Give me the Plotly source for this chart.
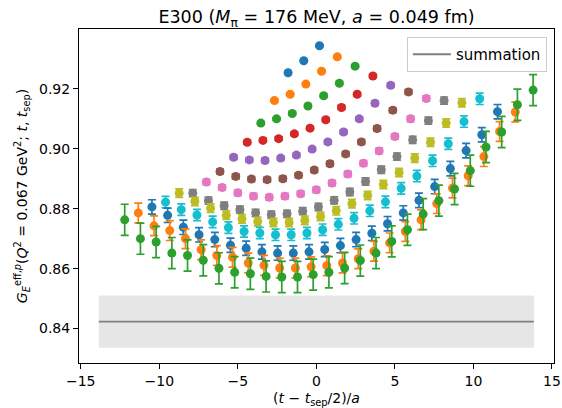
import numpy as np
import plotly.graph_objects as go

# Source-sink separations in lattice units
t_seps = [4, 6, 8, 10, 12, 14, 16, 18, 20, 22, 24, 26, 28]

# Effective form factor G_E^{eff,p} for each t_sep, at t = 1 .. t_sep-1
g_ts04 = [0.9254, 0.9294, 0.9344]
g_ts06 = [0.9161, 0.9182, 0.9216, 0.9259, 0.9307]
g_ts08 = [0.9086, 0.9100, 0.9118, 0.9143, 0.9177, 0.9219, 0.9276]
g_ts10 = [0.9022, 0.9028, 0.9034, 0.9050, 0.9069, 0.9097, 0.9138, 0.9182, 0.9243]
g_ts12 = [0.8972, 0.8963, 0.8961, 0.8969, 0.8979, 0.8999, 0.9023, 0.9056, 0.9100,
          0.9152, 0.9212]
g_ts14 = [0.8924, 0.8908, 0.8899, 0.8897, 0.8900, 0.8912, 0.8929, 0.8950, 0.8983,
          0.9023, 0.9068, 0.9129, 0.9190]
g_ts16 = [0.8889, 0.8871, 0.8853, 0.8842, 0.8838, 0.8842, 0.8850, 0.8863, 0.8886,
          0.8916, 0.8952, 0.8993, 0.9041, 0.9100, 0.9168]
g_ts18 = [0.8852, 0.8827, 0.8810, 0.8797, 0.8786, 0.8780, 0.8783, 0.8792, 0.8806,
          0.8828, 0.8856, 0.8891, 0.8930, 0.8974, 0.9030, 0.9094, 0.9161]
g_ts20 = [0.8852, 0.8824, 0.8802, 0.8778, 0.8766, 0.8757, 0.8754, 0.8754, 0.8761,
          0.8774, 0.8793, 0.8817, 0.8844, 0.8881, 0.8921, 0.8969, 0.9022, 0.9086,
          0.9154]
g_ts22 = [0.8822, 0.8797, 0.8779, 0.8756, 0.8737, 0.8724, 0.8719, 0.8713, 0.8713,
          0.8719, 0.8730, 0.8748, 0.8768, 0.8793, 0.8823, 0.8868, 0.8909, 0.8960,
          0.9017, 0.9091, 0.9167]
g_ts24 = [0.8806, 0.8778, 0.8738, 0.8713, 0.8697, 0.8678, 0.8668, 0.8656, 0.8652,
          0.8652, 0.8656, 0.8664, 0.8677, 0.8697, 0.8718, 0.8750, 0.8786, 0.8828,
          0.8874, 0.8934, 0.8994, 0.9047, 0.9124]
g_ts26 = [0.8786, 0.8743, 0.8727, 0.8700, 0.8663, 0.8644, 0.8638, 0.8619, 0.8611,
          0.8602, 0.8602, 0.8606, 0.8610, 0.8619, 0.8633, 0.8658, 0.8686, 0.8724,
          0.8763, 0.8817, 0.8869, 0.8910, 0.8974, 0.9058, 0.9123]
g_ts28 = [0.8763, 0.8700, 0.8689, 0.8652, 0.8644, 0.8628, 0.8601, 0.8588, 0.8583,
          0.8574, 0.8572, 0.8572, 0.8580, 0.8588, 0.8602, 0.8627, 0.8652, 0.8691,
          0.8730, 0.8782, 0.8827, 0.8866, 0.8927, 0.9006, 0.9056, 0.9147, 0.9196]

# Statistical uncertainty of each t_sep series
g_err = [0.0003, 0.0004, 0.0005, 0.0006, 0.0007, 0.0008, 0.0009, 0.0012, 0.0014,
         0.0019, 0.0024, 0.0033, 0.0052]

# Summation-method result and the x extent of its band
summation_value = 0.8423
summation_error = 0.0087
summation_x = [-13.85, 13.85]

series = [g_ts04, g_ts06, g_ts08, g_ts10, g_ts12, g_ts14, g_ts16, g_ts18, g_ts20,
          g_ts22, g_ts24, g_ts26, g_ts28]

colors = ['#1f77b4', '#ff7f0e', '#2ca02c', '#d62728', '#9467bd', '#8c564b',
          '#e377c2', '#7f7f7f', '#bcbd22', '#17becf']

# small horizontal dodge so the series do not sit on top of each other
dodge = np.linspace(-0.8, 0.8, len(t_seps))

fig = go.Figure()

# summation band + central line
band_lo = [summation_value - summation_error] * len(summation_x)
band_hi = [summation_value + summation_error] * len(summation_x)
fig.add_trace(go.Scatter(x=summation_x, y=band_lo, mode='lines',
                         line=dict(width=0), hoverinfo='skip', showlegend=False))
fig.add_trace(go.Scatter(x=summation_x, y=band_hi, mode='lines',
                         line=dict(width=0), fill='tonexty',
                         fillcolor='rgba(128,128,128,0.2)', hoverinfo='skip',
                         showlegend=False))
fig.add_trace(go.Scatter(x=summation_x, y=[summation_value] * len(summation_x),
                         mode='lines', line=dict(color='#808080', width=1.8),
                         name='summation', showlegend=True))

for i, (ts, vals) in enumerate(zip(t_seps, series)):
    t = np.arange(1, ts)
    x = t - ts / 2 + dodge[i]
    c = colors[i % len(colors)]
    fig.add_trace(go.Scatter(
        x=x, y=vals, mode='markers',
        marker=dict(color=c, size=9),
        error_y=dict(type='constant', value=g_err[i], color=c,
                     thickness=1.7, width=4),
        name=f't_sep = {ts}', showlegend=False))

axis_common = dict(showline=True, linecolor='black', linewidth=1, mirror=True,
                   ticks='outside', ticklen=5, tickwidth=1, tickcolor='black',
                   showgrid=False, zeroline=False, automargin=False,
                   tickfont=dict(family='DejaVu Sans', size=14, color='black'))

EQ = '\u2004=\u2004'

fig.update_layout(
    width=562, height=408,
    margin=dict(l=79, r=8, t=29, b=45),
    paper_bgcolor='white', plot_bgcolor='white',
    font=dict(family='DejaVu Sans', size=14, color='black'),
    title=dict(text=f'E300 (<i>M</i><sub>π</sub>{EQ}176 MeV, <i>a</i>{EQ}0.049 fm)',
               x=0.5, xref='paper', xanchor='center',
               y=1 - 17 / 408, yref='container', yanchor='middle',
               font=dict(family='DejaVu Sans', size=17.5, color='black')),
    xaxis=dict(range=[-15.11, 15.13], tickvals=[-15, -10, -5, 0, 5, 10, 15],
               title=dict(text='(<i>t</i> − <i>t</i><sub>sep</sub>/2)/<i>a</i>',
                          standoff=13, font=dict(size=14)),
               **axis_common),
    yaxis=dict(range=[0.8285, 0.9400], tickvals=[0.84, 0.86, 0.88, 0.90, 0.92],
               tickformat='.2f',
               title=dict(text='<i>G</i><sub><i>E</i></sub><sup>eff,<i>p</i></sup>'
                               '(<i>Q</i><sup>2</sup> = 0.067 GeV<sup>2</sup>; '
                               '<i>t</i>, <i>t</i><sub>sep</sub>)',
                          standoff=8, font=dict(size=14)),
               **axis_common),
    legend=dict(x=0.985, y=0.976, xanchor='right', yanchor='top',
                bgcolor='rgba(255,255,255,0.8)', bordercolor='#cccccc',
                borderwidth=1, font=dict(size=15), itemwidth=38),
)

fig.write_html('out.html')
